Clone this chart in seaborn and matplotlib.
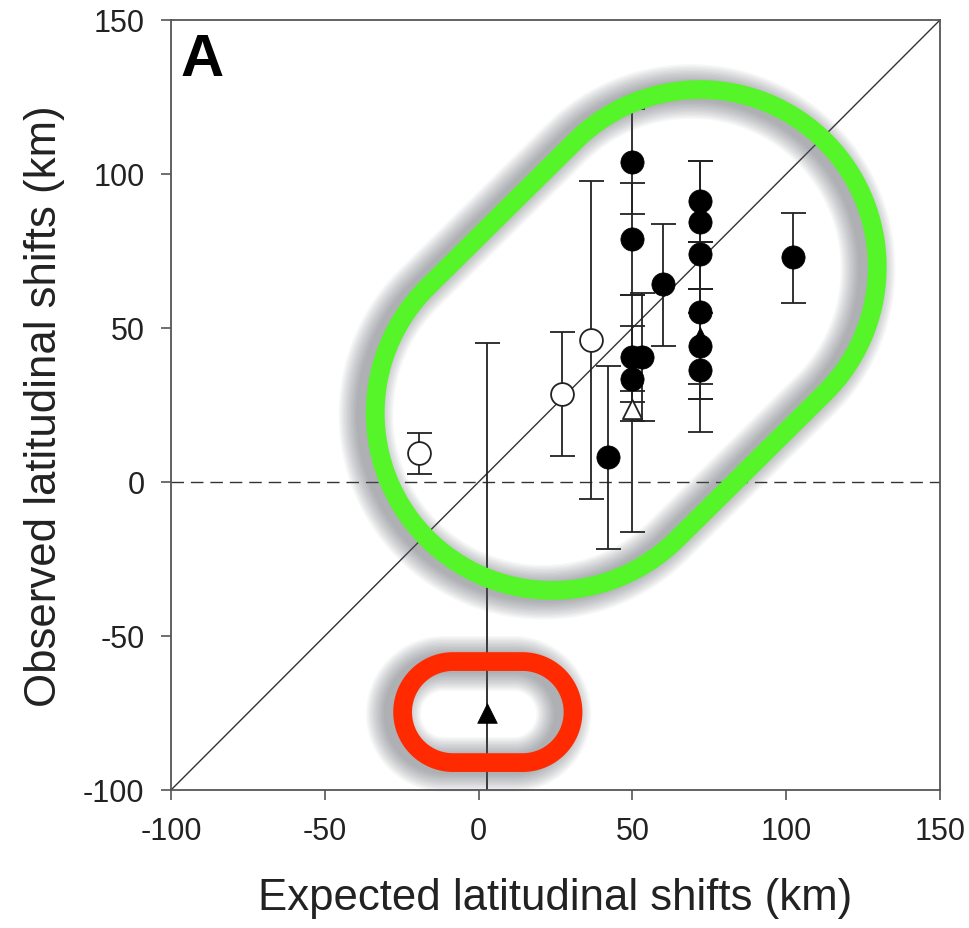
import numpy as np
import pandas as pd
import matplotlib
matplotlib.use("Agg")
import matplotlib.pyplot as plt
from matplotlib.path import Path
from matplotlib.patches import PathPatch
import seaborn as sns

# ---------------- data ----------------
filled_x = [50, 50, 60, 50, 53, 50, 42, 72, 72, 72, 72, 72, 72, 102.2]
filled_y = [104, 79, 64.3, 40.6, 40.6, 33.4, 8.1, 91.2, 84.4, 74.0, 55.2, 44.0, 36.5, 73.0]
filled_lo = [87, 60.7, 44.2, 19.8, 19.8, 26, -21.8, 78, 62.7, 62.7, 31.8, 16.2, 27, 58.1]
filled_hi = [121, 97, 83.8, 50.6, 61.4, 60.7, 37.7, 104.2, 104.2, 78, 78, 62.7, 55, 87.3]

open_x = [-19.5, 27, 36.5]
open_y = [9.4, 28.6, 46]
open_lo = [2.6, 8.4, -5.5]
open_hi = [16, 48.7, 97.7]

ftri_x = [2.7, 72]
ftri_y = [-75, 47]
ftri_lo = [-110, 27]
ftri_hi = [45.1, 62.7]

otri_x = [50]
otri_y = [23.7]
otri_lo = [-16.2]
otri_hi = [29.5]

xticks = [-100, -50, 0, 50, 100, 150]
yticks = [-100, -50, 0, 50, 100, 150]
xlabel = "Expected latitudinal shifts (km)"
ylabel = "Observed latitudinal shifts (km)"
panel = "A"

# annotation stadiums (cap centres in data units, radius)
green_c1, green_c2, green_r = (24.0, 22.4), (72.0, 69.8), 57.6
red_c1, red_c2, red_r = (-8.3, -74.7), (14.3, -74.7), 16.4

# ---------------- style ----------------
sns.set_style("white")
plt.rcParams['font.family'] = ['Liberation Sans', 'DejaVu Sans']
plt.rcParams['axes.unicode_minus'] = False

fig = plt.figure(figsize=(9.69, 9.29), dpi=100)
ax = fig.add_axes([171/969, 1-791/929, 769/969, 770/929])

def errbars(xs, ys, lo, hi):
    ys = np.asarray(ys); lo = np.asarray(lo); hi = np.asarray(hi)
    ax.errorbar(xs, ys, yerr=[ys - lo, hi - ys], fmt='none', ecolor='#222222',
                elinewidth=1.3, capsize=9, capthick=1.3, zorder=2)

errbars(filled_x, filled_y, filled_lo, filled_hi)
errbars(open_x, open_y, open_lo, open_hi)
errbars(ftri_x, ftri_y, ftri_lo, ftri_hi)
errbars(otri_x, otri_y, otri_lo, otri_hi)

# reference lines
ax.plot([-100, 150], [-100, 150], color='#333333', lw=1.0, zorder=1)
ax.axhline(0, color='#333333', lw=1.0, dashes=(9, 5), zorder=1)

sns.scatterplot(x=filled_x, y=filled_y, marker='o', s=280, color='black',
                edgecolor='black', linewidth=0.5, ax=ax, zorder=3)
sns.scatterplot(x=open_x, y=open_y, marker='o', s=270, color='white',
                edgecolor='#222222', linewidth=1.3, ax=ax, zorder=3)
sns.scatterplot(x=ftri_x, y=ftri_y, marker='^', s=200, color='black',
                edgecolor='black', linewidth=0.5, ax=ax, zorder=3)
sns.scatterplot(x=otri_x, y=otri_y, marker='^', s=190, color='white',
                edgecolor='#222222', linewidth=1.3, ax=ax, zorder=3)

ax.set_xlim(-100, 150)
ax.set_ylim(-100, 150)
ax.set_xticks(xticks)
ax.set_yticks(yticks)
ax.tick_params(axis='both', direction='out', length=7, width=1.2, color='#555555',
               labelsize=22, labelcolor='#222222', pad=12, left=True, bottom=True)
for sp in ax.spines.values():
    sp.set_color('#555555')
    sp.set_linewidth(1.3)
ax.set_xlabel(xlabel, fontsize=31.5, color='#222222', labelpad=22)
ax.set_ylabel(ylabel, fontsize=31.5, color='#222222', labelpad=13)
ax.text(0.012, 0.985, panel, transform=ax.transAxes, fontsize=43, fontweight='bold',
        ha='left', va='top', color='black')

# ---------------- stadium annotations ----------------
def stadium_path(c1, c2, r, n=100):
    c1 = np.asarray(c1, float); c2 = np.asarray(c2, float)
    d = c2 - c1
    th = np.arctan2(d[1], d[0])
    a2 = np.linspace(th - np.pi/2, th + np.pi/2, n)
    a1 = np.linspace(th + np.pi/2, th + 3*np.pi/2, n)
    p2 = c2 + r*np.column_stack([np.cos(a2), np.sin(a2)])
    p1 = c1 + r*np.column_stack([np.cos(a1), np.sin(a1)])
    pts = np.vstack([p2, p1, p2[:1]])
    codes = [Path.MOVETO] + [Path.LINETO]*(len(pts)-2) + [Path.CLOSEPOLY]
    return Path(pts, codes)

def draw_stadium(c1, c2, r, color, lw):
    off = np.array([-3.0, -0.6])
    sp = stadium_path(np.asarray(c1)+off, np.asarray(c2)+off, r)
    for i in range(14):
        w = lw + 2.0*i
        ax.add_patch(PathPatch(sp, facecolor='none', edgecolor='#5a5e66', lw=w,
                               alpha=0.045, zorder=5, clip_on=False,
                               joinstyle='round'))
    ax.add_patch(PathPatch(stadium_path(c1, c2, r), facecolor='none', edgecolor=color,
                           lw=lw, zorder=6, clip_on=False, joinstyle='round'))

draw_stadium(green_c1, green_c2, green_r, '#55f52a', 13.5)
draw_stadium(red_c1, red_c2, red_r, '#ff2a00', 13.5)

fig.savefig("out.png", dpi=100)
